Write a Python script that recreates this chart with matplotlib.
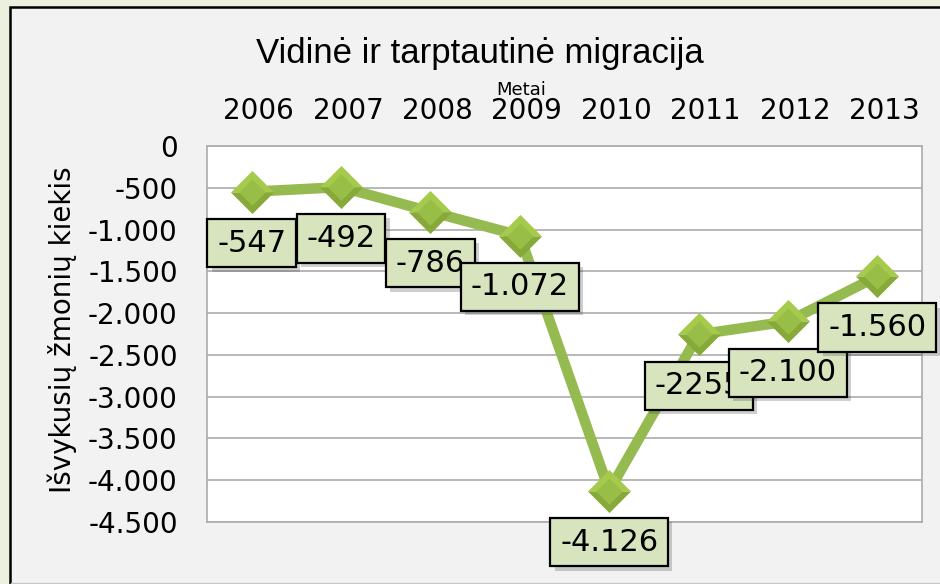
import numpy as np
import matplotlib
matplotlib.use('Agg')
import matplotlib.pyplot as plt
from matplotlib.patches import Rectangle
from matplotlib.lines import Line2D
from matplotlib import patheffects as pe
from matplotlib.transforms import ScaledTranslation

# data
years = ['2006', '2007', '2008', '2009', '2010', '2011', '2012', '2013']
values = [-547, -492, -786, -1072, -4126, -2255, -2100, -1560]
point_labels = ['-547', '-492', '-786', '-1.072', '-4.126', '-2255', '-2.100', '-1.560']
yticks = [0, -500, -1000, -1500, -2000, -2500, -3000, -3500, -4000, -4500]

title = 'Vidinė ir tarptautinė migracija'
xtitle = 'Metai'
ytitle = 'Išvykusių žmonių kiekis'

W, H = 940, 584


def fx(px):
    return px / W


def fy(py):
    return 1 - py / H


def fmt(v):
    return f'{v:,}'.replace(',', '.')


fig = plt.figure(figsize=(9.4, 5.84), dpi=100, facecolor='#EBF1DE')

# chart area
fig.patches.append(Rectangle((fx(10), fy(620)), 1.0, fy(7) - fy(620),
                             transform=fig.transFigure, facecolor='#F2F2F2',
                             edgecolor='black', lw=1.8, zorder=-2))
fig.add_artist(Line2D([fx(11), 1], [fy(583), fy(583)], color='#C8C8C8', lw=1, zorder=-1))

ax = fig.add_axes([fx(207), fy(522), fx(922) - fx(207), fy(146) - fy(522)])
x = np.arange(len(years))
ax.set_xlim(-0.5, len(years) - 0.5)
ax.set_ylim(-4500, 0)
ax.set_yticks(yticks)
ax.set_yticklabels([fmt(v) for v in yticks])
ax.yaxis.grid(True, color='#ABABAB', lw=1.2)
ax.set_axisbelow(True)
ax.xaxis.tick_top()
ax.set_xticks(x)
ax.set_xticklabels(years)
ax.tick_params(length=0, labelsize=20, colors='black')
ax.tick_params(axis='y', pad=21)
ax.tick_params(axis='x', pad=15)
for s in ax.spines.values():
    s.set_color('#ABABAB')
    s.set_linewidth(1.2)
shift = ScaledTranslation(0.07, 0, fig.dpi_scale_trans)
for lab in ax.get_xticklabels():
    lab.set_transform(lab.get_transform() + shift)

# line
ax.plot(x, values, color='#95BA50', lw=7.5, solid_joinstyle='round', zorder=3)

# bevelled diamond markers
top = [(-1, 0), (0, 1), (1, 0), (-1, 0)]
bot = [(-1, 0), (0, -1), (1, 0), (-1, 0)]
diam = [(-1, 0), (0, 1), (1, 0), (0, -1), (-1, 0)]
ax.plot(x, values, ls='none', marker=top, ms=31, mfc='#A6CB4C', mec='none', zorder=4)
ax.plot(x, values, ls='none', marker=bot, ms=31, mfc='#86A93A', mec='none', zorder=4)
ax.plot(x, values, ls='none', marker=diam, ms=19, mfc='#99BE47', mec='none', zorder=4)

# data labels
for i, (xi, v) in enumerate(zip(x, values)):
    ann = ax.annotate(point_labels[i], (xi, v), xytext=(0, -37), textcoords='offset points',
                      ha='center', va='center', fontsize=22, color='black',
                      bbox=dict(boxstyle='square,pad=0.32', fc='#D7E4BD', ec='black', lw=1.6),
                      zorder=5 + i)
    ann.get_bbox_patch().set_path_effects([pe.SimplePatchShadow(offset=(3, -3), alpha=0.25),
                                           pe.Normal()])

fig.text(fx(480), fy(63), title, ha='center', va='baseline', fontsize=25,
         family='Liberation Sans')
fig.text(fx(521), fy(95), xtitle, ha='center', va='baseline', fontsize=13)
fig.text(fx(62), fy(330), ytitle, rotation=90, ha='center', va='center', fontsize=20)

fig.savefig('out.png', dpi=100, facecolor=fig.get_facecolor())
